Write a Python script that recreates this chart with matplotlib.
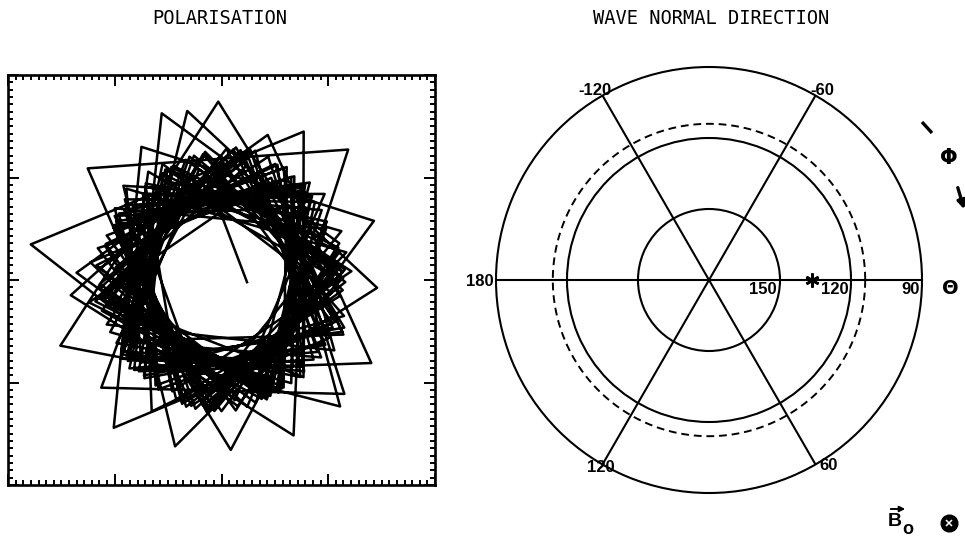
import numpy as np
import matplotlib
matplotlib.use("Agg")
import matplotlib.pyplot as plt
from matplotlib.ticker import MultipleLocator

# hodogramme: sommets (angle en degres, rayon en unites de boite)
hodo_ang = [355, 98, 212, 308, 62, 158, 276, 18, 109, 227,
            318, 76, 182, 290, 47, 139, 257, 357, 101, 220,
            312, 62, 169, 277, 22, 120, 235, 331, 85, 190,
            291, 44, 135, 250, 352, 91, 203, 298, 50, 150,
            267, 8, 113, 229, 330, 73, 177, 285, 36, 131,
            243, 339, 84, 186, 294, 48, 146, 255, 1, 104,
            216, 312, 66, 163, 273, 16, 112, 225, 322, 78,
            184, 292, 41, 139, 253, 355, 97, 206, 303, 56,
            153, 264, 7, 118, 233, 327, 82, 189, 296, 51,
            143, 259, 4, 106, 223, 316, 70, 174, 281, 30,
            127, 241, 336, 88, 195, 288, 44, 141, 255, 359,
            102, 218, 311, 65, 162, 270, 14, 115, 232, 327,
            81, 187, 297, 49, 152, 264, 2, 123, 213, 321,
            78, 173, 276, 41, 129, 239, 338, 97, 190, 296,
            50, 141, 264, 5, 101, 219, 308, 57, 172, 269,
            13, 135, 227, 338, 78, 190, 288, 49, 139, 247,
            4, 99, 202, 327, 55, 165, 264, 23, 116, 222,
            336, 67, 190, 291, 27, 145, 234, 343, 98, 195,
            299, 61, 153, 264, 4, 116, 214, 335, 65, 173,
            290, 25, 128, 253, 341, 91, 190, 309, 42, 148,
            262, 353, 116, 217, 313]
hodo_rad = [0.12, 0.52, 0.58, 0.60, 0.62, 0.58, 0.64, 0.58, 0.86, 0.60,
            0.58, 0.65, 0.57, 0.62, 0.87, 0.83, 0.63, 0.73, 0.84, 0.58,
            0.57, 0.82, 0.91, 0.62, 0.77, 0.75, 0.88, 0.58, 0.64, 0.56,
            0.60, 0.58, 0.65, 0.62, 0.56, 0.87, 0.82, 0.60, 0.59, 0.57,
            0.64, 0.55, 0.60, 0.59, 0.81, 0.74, 0.68, 0.62, 0.58, 0.56,
            0.72, 0.57, 0.65, 0.71, 0.83, 0.58, 0.58, 0.84, 0.57, 0.62,
            0.58, 0.83, 0.62, 0.57, 0.83, 0.57, 0.60, 0.61, 0.57, 0.65,
            0.57, 0.61, 0.58, 0.60, 0.63, 0.57, 0.63, 0.58, 0.60, 0.61,
            0.57, 0.65, 0.56, 0.59, 0.60, 0.58, 0.64, 0.57, 0.61, 0.59,
            0.57, 0.64, 0.57, 0.61, 0.77, 0.80, 0.64, 0.57, 0.63, 0.57,
            0.59, 0.61, 0.57, 0.64, 0.58, 0.61, 0.59, 0.58, 0.64, 0.58,
            0.62, 0.59, 0.59, 0.62, 0.57, 0.64, 0.57, 0.60, 0.59, 0.57,
            0.63, 0.57, 0.60, 0.58, 0.57, 0.62, 0.52, 0.63, 0.55, 0.60,
            0.61, 0.50, 0.59, 0.64, 0.54, 0.60, 0.56, 0.62, 0.53, 0.59,
            0.61, 0.51, 0.63, 0.58, 0.55, 0.61, 0.54, 0.60, 0.62, 0.52,
            0.60, 0.63, 0.55, 0.62, 0.57, 0.60, 0.53, 0.63, 0.55, 0.59,
            0.61, 0.51, 0.58, 0.63, 0.55, 0.60, 0.56, 0.61, 0.53, 0.59,
            0.62, 0.52, 0.63, 0.58, 0.55, 0.61, 0.54, 0.60, 0.62, 0.52,
            0.60, 0.63, 0.55, 0.62, 0.57, 0.60, 0.53, 0.63, 0.55, 0.59,
            0.61, 0.51, 0.58, 0.63, 0.55, 0.60, 0.56, 0.61, 0.53, 0.59,
            0.62, 0.52, 0.63, 0.58, 0.55]

# direction de la normale
phi_spokes = [0, 60, 120, 180, 240, 300]
theta_rings = [150, 120]
theta_dashed = 114
theta_outer = 90
theta_centre = 180
star_theta = 136.5
star_phi = 0
theta_labels = ['180', '150', '120', '90']
phi_labels = ['-120', '-60', '120', '60']

W, H = 965, 545
fig = plt.figure(figsize=(W / 100, H / 100), dpi=100)

# --- POLARISATION ---
ax1 = fig.add_axes([8 / W, (H - 485) / H, 427 / W, 410 / H])
a = np.radians(hodo_ang)
r = np.array(hodo_rad)
ax1.plot(r * np.cos(a), r * np.sin(a), color='k', lw=1.8)
ax1.set_xlim(-1, 1)
ax1.set_ylim(-1, 1)
ax1.xaxis.set_major_locator(MultipleLocator(0.5))
ax1.yaxis.set_major_locator(MultipleLocator(0.5))
ax1.xaxis.set_minor_locator(MultipleLocator(1 / 28))
ax1.yaxis.set_minor_locator(MultipleLocator(1 / 28))
ax1.tick_params(which='both', direction='in', top=True, right=True,
                labelbottom=False, labelleft=False, width=1.4, color='k')
ax1.tick_params(which='major', length=8)
ax1.tick_params(which='minor', length=3.5)
for s in ax1.spines.values():
    s.set_linewidth(1.9)

# --- WAVE NORMAL DIRECTION ---
ax2 = fig.add_axes([496 / W, (H - 493) / H, 426 / W, 426 / H], projection='polar')
ax2.set_theta_zero_location('E')
ax2.set_theta_direction(-1)
rmax = theta_centre - theta_outer
ax2.set_ylim(0, rmax)
ax2.set_thetagrids(phi_spokes, labels=[''] * len(phi_spokes))
ax2.set_rgrids([theta_centre - t for t in theta_rings], labels=['', ''])
ax2.grid(True, color='k', lw=1.5, ls='-')
ax2.tick_params(length=0)
ax2.spines['polar'].set_linewidth(1.5)
th = np.linspace(0, 2 * np.pi, 400)
ax2.plot(th, np.full_like(th, theta_centre - theta_dashed), color='k', lw=1.4,
         ls=(0, (4, 2.5)))
ax2.plot(np.radians(star_phi), theta_centre - star_theta, marker=(6, 2, 0),
         ms=10, mew=1.9, color='k', ls='none', zorder=5)

lab = dict(fontsize=12, fontweight='bold', family='Liberation Sans',
           textcoords='offset pixels')
ax2.annotate(theta_labels[0], xy=(np.pi, rmax), xytext=(-2, -1), ha='right', va='center', **lab)
ax2.annotate(theta_labels[1], xy=(0, theta_centre - 150), xytext=(-3, -2), ha='right', va='top', **lab)
ax2.annotate(theta_labels[2], xy=(0, theta_centre - 120), xytext=(-2, -2), ha='right', va='top', **lab)
ax2.annotate(theta_labels[3], xy=(0, rmax), xytext=(-2, -2), ha='right', va='top', **lab)
ax2.annotate(phi_labels[0], xy=(np.radians(-120), rmax), xytext=(-8, 5), ha='center', va='center', **lab)
ax2.annotate(phi_labels[1], xy=(np.radians(-60), rmax), xytext=(7, 5), ha='center', va='center', **lab)
ax2.annotate(phi_labels[2], xy=(np.radians(120), rmax), xytext=(-2, -3), ha='center', va='center', **lab)
ax2.annotate(phi_labels[3], xy=(np.radians(60), rmax), xytext=(13, -1), ha='center', va='center', **lab)

# --- textes et symboles, en pixels ---
ov = fig.add_axes([0, 0, 1, 1], facecolor='none')
ov.set_xlim(0, W)
ov.set_ylim(H, 0)
ov.axis('off')
ov.text(220, 19, 'POLARISATION', ha='center', va='center',
        family='DejaVu Sans Mono', fontsize=13.5)
ov.text(711, 19, 'WAVE NORMAL DIRECTION', ha='center', va='center',
        family='DejaVu Sans Mono', fontsize=13.5)
ov.text(949, 158, 'Φ', ha='center', va='center', fontsize=15, fontweight='bold')
ov.text(950, 288, 'Θ', ha='center', va='center', fontsize=14, fontweight='bold')
ov.plot([922, 932], [122, 133], color='k', lw=2.4, solid_capstyle='butt')
ov.annotate('', xy=(965, 212), xytext=(957, 185),
            arrowprops=dict(arrowstyle='-|>', color='k', lw=2.4, mutation_scale=12))
ov.text(895, 522, 'B', ha='center', va='center', fontsize=14, fontweight='bold',
        family='Liberation Sans')
ov.text(908, 530, 'o', ha='center', va='center', fontsize=13, fontweight='bold',
        family='Liberation Sans')
ov.annotate('', xy=(908, 509), xytext=(888, 509),
            arrowprops=dict(arrowstyle='-|>', color='k', lw=1.4, mutation_scale=8))
ov.plot(949, 523, marker='o', ms=12, color='k', ls='none')
ov.plot(949, 523, marker='x', ms=4, mew=1.1, color='w', ls='none')

fig.savefig('out.png', dpi=100, facecolor='white')
